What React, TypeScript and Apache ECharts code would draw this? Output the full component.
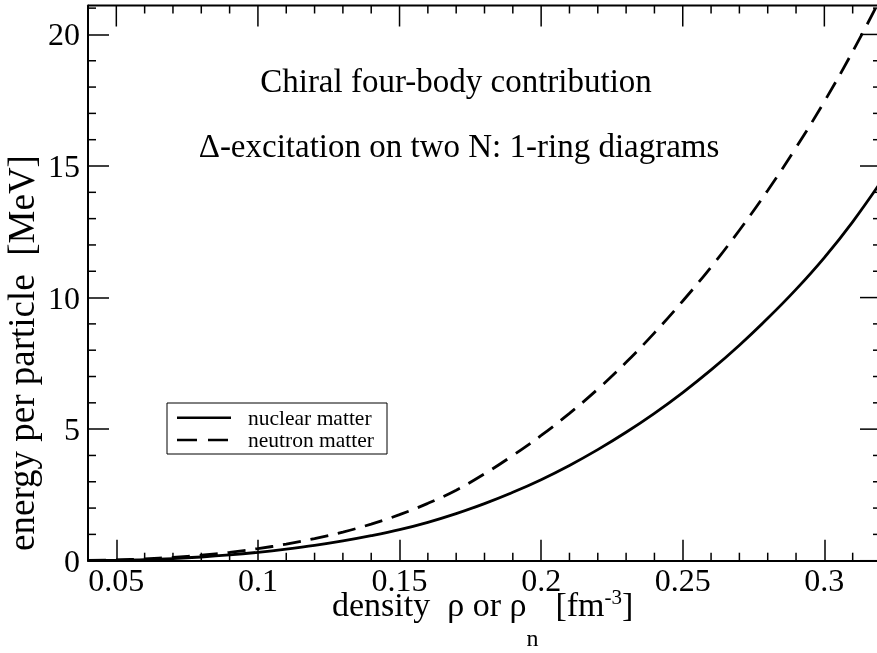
import React, { useEffect, useRef } from "react";
import * as echarts from "echarts";

// density rho [fm^-3]
const densities = [
  0.04, 0.05, 0.06, 0.07, 0.08, 0.09, 0.1, 0.11, 0.12, 0.13, 0.14, 0.15, 0.16, 0.17, 0.18,
  0.19, 0.2, 0.21, 0.22, 0.23, 0.24, 0.25, 0.26, 0.27, 0.28, 0.29, 0.3, 0.31, 0.32,
];
// energy per particle [MeV], nuclear matter (solid)
const nuclearMatter = [
  0.01, 0.02, 0.04, 0.08, 0.14, 0.22, 0.32, 0.44, 0.58, 0.75, 0.95, 1.18, 1.46, 1.79, 2.17,
  2.6, 3.08, 3.62, 4.22, 4.88, 5.6, 6.39, 7.25, 8.19, 9.21, 10.31, 11.52, 12.88, 14.4,
];
// energy per particle [MeV], neutron matter (dashed)
const neutronMatter = [
  0.01, 0.03, 0.07, 0.13, 0.21, 0.32, 0.46, 0.63, 0.84, 1.09, 1.39, 1.75, 2.18, 2.68, 3.3,
  4.0, 4.76, 5.6, 6.52, 7.54, 8.66, 9.87, 11.16, 12.56, 14.07, 15.7, 17.45, 19.35, 21.4,
];
const seriesNames = ["nuclear matter", "neutron matter"];
const annotationLines = ["Chiral four-body contribution", "Δ-excitation on two N: 1-ring diagrams"];
const yTitle = "energy per particle  [MeV]";

// axis ranges and ticks
const X_MIN = 0.04;
const X_MAX = 0.32;
const Y_MIN = 0;
const Y_MAX = 21.1;
const xMajorTicks = [0.05, 0.1, 0.15, 0.2, 0.25, 0.3];
const xMinorTicks = [
  0.06, 0.07, 0.08, 0.09, 0.11, 0.12, 0.13, 0.14, 0.16, 0.17, 0.18, 0.19, 0.21, 0.22, 0.23,
  0.24, 0.26, 0.27, 0.28, 0.29, 0.31,
];
const yMajorTicks = [0, 5, 10, 15, 20];
const yMinorTicks = [1, 2, 3, 4, 6, 7, 8, 9, 11, 12, 13, 14, 16, 17, 18, 19, 21];

const FONT = "'Liberation Serif', 'Times New Roman', serif";

const W = 900;
const H = 653;

function fmt(v: number) {
  return String(Number(v.toFixed(2)));
}

// vertical center for a "middle" aligned text whose baseline should be at y
function mid(baseline: number, size: number) {
  return baseline - 0.3375 * size;
}

export default function App() {
  const ref = useRef<HTMLDivElement>(null);

  useEffect(() => {
    if (!ref.current) return;
    const chart = echarts.init(ref.current, undefined, { renderer: "svg" });

    const canvas = document.createElement("canvas");
    const ctx = canvas.getContext("2d")!;
    const measure = (s: string, size: number) => {
      ctx.font = `${size}px 'Liberation Serif'`;
      return ctx.measureText(s).width;
    };

    const xLabelFormatter = (v: number) => {
      const k = v / 0.05;
      if (Math.abs(k - Math.round(k)) > 1e-6) return "";
      return fmt(v);
    };
    const yLabelFormatter = (v: number) => {
      const k = v / 5;
      if (Math.abs(k - Math.round(k)) > 1e-6) return "";
      return fmt(v);
    };

    chart.setOption({
      animation: false,
      grid: { left: 88, right: W - 881, top: 5.5, bottom: H - 560.7 },
      xAxis: {
        type: "value",
        min: X_MIN,
        max: X_MAX,
        axisLine: { show: true, onZero: false, lineStyle: { color: "#000", width: 2 } },
        axisTick: { show: true, inside: true, length: 21, lineStyle: { color: "#000", width: 1.5 } },
        minorTick: { show: false },
        splitLine: { show: false },
        axisLabel: {
          show: true,
          formatter: xLabelFormatter,
          showMinLabel: false,
          showMaxLabel: false,
          color: "#000",
          fontFamily: FONT,
          fontSize: 32,
          lineHeight: 22,
          margin: 8,
        },
      },
      yAxis: {
        type: "value",
        min: Y_MIN,
        max: Y_MAX,
        interval: 5,
        axisLine: { show: true, onZero: false, lineStyle: { color: "#000", width: 2 } },
        axisTick: { show: true, inside: true, length: 21, lineStyle: { color: "#000", width: 1.5 } },
        minorTick: { show: false },
        splitLine: { show: false },
        axisLabel: {
          show: true,
          formatter: yLabelFormatter,
          showMaxLabel: false,
          color: "#000",
          fontFamily: FONT,
          fontSize: 32,
          margin: 8,
        },
      },
      series: [
        {
          name: seriesNames[0],
          type: "line",
          data: densities.map((d, i) => [d, nuclearMatter[i]]),
          showSymbol: false,
          symbol: "none",
          smooth: 0.4,
          lineStyle: { color: "#000", width: 2.8, type: "solid" },
        },
        {
          name: seriesNames[1],
          type: "line",
          data: densities.map((d, i) => [d, neutronMatter[i]]),
          showSymbol: false,
          symbol: "none",
          smooth: 0.4,
          lineStyle: { color: "#000", width: 2.8, type: [18, 10] },
        },
      ],
    });

    // frame (top/right) and the remaining ticks, positioned through the chart's own axes
    const px = (x: number, y: number) => chart.convertToPixel({ gridIndex: 0 } as any, [x, y]) as any;
    const seg = (x1: number, y1: number, x2: number, y2: number, w: number) => ({
      type: "line",
      shape: { x1, y1, x2, y2 },
      style: { stroke: "#000", lineWidth: w },
    });
    const frameEls: any[] = [];
    {
      const tl = px(X_MIN, Y_MAX);
      const tr = px(X_MAX, Y_MAX);
      const br = px(X_MAX, Y_MIN);
      frameEls.push(seg(tl[0], tl[1], tr[0], tr[1], 2));
      frameEls.push(seg(tr[0], tr[1], br[0], br[1], 2));
    }
    // top & right major ticks
    xMajorTicks.forEach((v) => {
      const t = px(v, Y_MAX);
      frameEls.push(seg(t[0], t[1], t[0], t[1] + 21, 1.5));
    });
    yMajorTicks.forEach((v) => {
      const r = px(X_MAX, v);
      frameEls.push(seg(r[0], r[1], r[0] - 21, r[1], 1.5));
    });
    // minor ticks on all four sides
    xMinorTicks.forEach((v) => {
      const b = px(v, Y_MIN);
      const t = px(v, Y_MAX);
      frameEls.push(seg(b[0], b[1], b[0], b[1] - 8, 1.5));
      frameEls.push(seg(t[0], t[1], t[0], t[1] + 8, 1.5));
    });
    yMinorTicks.forEach((v) => {
      const l = px(X_MIN, v);
      const r = px(X_MAX, v);
      frameEls.push(seg(l[0], l[1], l[0] + 8, l[1], 1.5));
      frameEls.push(seg(r[0], r[1], r[0] - 8, r[1], 1.5));
    });

    // x-axis title pieces (main / subscript / superscript)
    const mainSize = 34;
    const subSize = 24;
    const supSize = 21;
    const pieces = [
      { t: "density  ρ or ρ", s: mainSize, base: 616 },
      { t: "n", s: subSize, base: 646 },
      { t: "  [fm", s: mainSize, base: 616 },
      { t: "-3", s: supSize, base: 604.5 },
      { t: "]", s: mainSize, base: 616 },
    ];
    let cx = 332;
    const titleEls: any[] = [];
    pieces.forEach((p) => {
      titleEls.push({
        type: "text",
        x: cx,
        y: mid(p.base, p.s),
        style: {
          text: p.t,
          font: `${p.s}px ${FONT}`,
          lineHeight: Math.round(p.s * 0.65),
          fill: "#000",
          align: "left",
          verticalAlign: "middle",
        },
      });
      cx += measure(p.t, p.s);
    });

    const legendX = 167;
    const legendY = 403;

    chart.setOption({
      graphic: [
        ...frameEls,
        {
          type: "text",
          x: 456,
          y: mid(91.7, 33),
          style: {
            text: annotationLines[0],
            font: `33px ${FONT}`,
            fill: "#000",
            align: "center",
            verticalAlign: "middle",
          },
        },
        {
          type: "text",
          x: 459,
          y: mid(157, 33),
          style: {
            text: annotationLines[1],
            font: `33px ${FONT}`,
            fill: "#000",
            align: "center",
            verticalAlign: "middle",
          },
        },
        {
          type: "text",
          x: 34 - 0.3375 * 37,
          y: 353,
          rotation: Math.PI / 2,
          style: {
            text: yTitle,
            font: `37px ${FONT}`,
            fill: "#000",
            align: "center",
            verticalAlign: "middle",
          },
        },
        ...titleEls,
        {
          type: "rect",
          shape: { x: legendX, y: legendY, width: 220, height: 51 },
          style: { fill: "transparent", stroke: "#000", lineWidth: 1 },
        },
        {
          type: "line",
          shape: { x1: 177, y1: 417.7, x2: 231, y2: 417.7 },
          style: { stroke: "#000", lineWidth: 2.5 },
        },
        {
          type: "line",
          shape: { x1: 177, y1: 440, x2: 231, y2: 440 },
          style: { stroke: "#000", lineWidth: 2.5, lineDash: [20, 11] },
        },
        {
          type: "text",
          x: 248,
          y: 417.7,
          style: {
            text: seriesNames[0],
            font: `21.5px ${FONT}`,
            fill: "#000",
            align: "left",
            verticalAlign: "middle",
          },
        },
        {
          type: "text",
          x: 248,
          y: 440,
          style: {
            text: seriesNames[1],
            font: `21.5px ${FONT}`,
            fill: "#000",
            align: "left",
            verticalAlign: "middle",
          },
        },
      ],
    });

    return () => {
      chart.dispose();
    };
  }, []);

  return <div ref={ref} style={{ position: "fixed", left: 0, top: 0, width: W, height: H }} />;
}
